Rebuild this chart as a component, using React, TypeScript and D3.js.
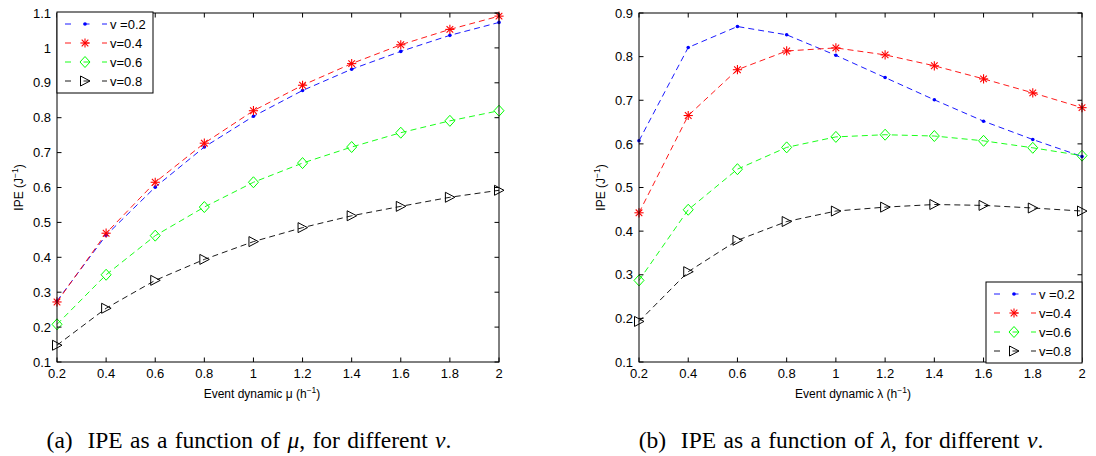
import * as d3 from 'd3';

// x positions shared by both panels
const xValues = [0.2, 0.4, 0.6, 0.8, 1.0, 1.2, 1.4, 1.6, 1.8, 2.0];
const xTickLabels = ['0.2', '0.4', '0.6', '0.8', '1', '1.2', '1.4', '1.6', '1.8', '2'];
const seriesNames = ['v =0.2', 'v=0.4', 'v=0.6', 'v=0.8'];

// panel (a): IPE vs mu
const muV02 = [0.275, 0.463, 0.601, 0.716, 0.804, 0.878, 0.939, 0.990, 1.036, 1.073];
const muV04 = [0.272, 0.469, 0.615, 0.727, 0.820, 0.893, 0.955, 1.009, 1.053, 1.091];
const muV06 = [0.208, 0.350, 0.462, 0.544, 0.615, 0.670, 0.716, 0.757, 0.791, 0.820];
const muV08 = [0.148, 0.254, 0.334, 0.394, 0.445, 0.485, 0.519, 0.546, 0.572, 0.592];
const muYTicks = [0.1, 0.2, 0.3, 0.4, 0.5, 0.6, 0.7, 0.8, 0.9, 1.0, 1.1];
const muYTickLabels = ['0.1', '0.2', '0.3', '0.4', '0.5', '0.6', '0.7', '0.8', '0.9', '1', '1.1'];

// panel (b): IPE vs lambda
const lamV02 = [0.607, 0.821, 0.869, 0.850, 0.803, 0.752, 0.701, 0.652, 0.610, 0.571];
const lamV04 = [0.442, 0.665, 0.770, 0.813, 0.820, 0.804, 0.779, 0.749, 0.717, 0.683];
const lamV06 = [0.287, 0.449, 0.542, 0.592, 0.616, 0.621, 0.618, 0.607, 0.591, 0.573];
const lamV08 = [0.193, 0.307, 0.379, 0.422, 0.446, 0.455, 0.461, 0.459, 0.453, 0.446];
const lamYTicks = [0.1, 0.2, 0.3, 0.4, 0.5, 0.6, 0.7, 0.8, 0.9];
const lamYTickLabels = ['0.1', '0.2', '0.3', '0.4', '0.5', '0.6', '0.7', '0.8', '0.9'];

const colors = ['#0000ff', '#ff0000', '#00ff00', '#000000'];
const markers = ['dot', 'star', 'diamond', 'triangle'];

const SANS = '"Liberation Sans", Arial, Helvetica, sans-serif';
const SERIF = '"Liberation Serif", "Times New Roman", serif';

function Marker({ kind, x, y, color }: { kind: string; x: number; y: number; color: string }) {
  if (kind === 'dot') return <circle cx={x} cy={y} r={1.8} fill={color} />;
  if (kind === 'star') {
    const r = 4.6, d = r * 0.72;
    return (
      <g stroke={color} strokeWidth={1.1}>
        <line x1={x - r} y1={y} x2={x + r} y2={y} />
        <line x1={x} y1={y - r} x2={x} y2={y + r} />
        <line x1={x - d} y1={y - d} x2={x + d} y2={y + d} />
        <line x1={x - d} y1={y + d} x2={x + d} y2={y - d} />
      </g>
    );
  }
  if (kind === 'diamond') {
    return <polygon points={`${x},${y - 5.5} ${x + 5},${y} ${x},${y + 5.5} ${x - 5},${y}`} fill="none" stroke={color} strokeWidth={1} />;
  }
  return <polygon points={`${x - 4.5},${y - 5} ${x + 5},${y} ${x - 4.5},${y + 5}`} fill="none" stroke={color} strokeWidth={1} />;
}

type PanelProps = {
  left: number; right: number; top: number; bottom: number;
  yDomain: [number, number]; yTicks: number[]; yTickLabels: string[];
  series: number[][]; symbol: string; xLabelX: number;
  legendX: number; legendY: number;
};

function Panel(p: PanelProps) {
  const x = d3.scaleLinear().domain([0.2, 2]).range([p.left, p.right]);
  const y = d3.scaleLinear().domain(p.yDomain).range([p.bottom, p.top]);
  const line = d3.line<number>().x((_, i) => x(xValues[i])).y(d => y(d));
  const tl = 4.5;
  const legW = 96, legH = 81, rowH = 19;
  return (
    <g fontFamily={SANS}>
      {p.series.map((s, k) => (
        <path key={'l' + k} d={line(s) || ''} fill="none" stroke={colors[k]} strokeWidth={0.9} strokeDasharray="6,4" />
      ))}
      {p.series.map((s, k) => s.map((v, i) => (
        <Marker key={`m${k}-${i}`} kind={markers[k]} x={x(xValues[i])} y={y(v)} color={colors[k]} />
      )))}
      <rect x={p.left} y={p.top} width={p.right - p.left} height={p.bottom - p.top} fill="none" stroke="#000" strokeWidth={1} />
      {xValues.map((t, i) => (
        <g key={'xt' + i}>
          <line x1={x(t)} x2={x(t)} y1={p.bottom} y2={p.bottom - tl} stroke="#000" />
          <line x1={x(t)} x2={x(t)} y1={p.top} y2={p.top + tl} stroke="#000" />
          <text x={x(t)} y={p.bottom + 16} fontSize={13} textAnchor="middle">{xTickLabels[i]}</text>
        </g>
      ))}
      {p.yTicks.map((t, i) => (
        <g key={'yt' + i}>
          <line x1={p.left} x2={p.left + tl} y1={y(t)} y2={y(t)} stroke="#000" />
          <line x1={p.right} x2={p.right - tl} y1={y(t)} y2={y(t)} stroke="#000" />
          <text x={p.left - 6} y={y(t)} dy="0.36em" fontSize={13} textAnchor="end">{p.yTickLabels[i]}</text>
        </g>
      ))}
      <text x={p.xLabelX} y={p.bottom + 36} fontSize={12} textAnchor="middle">
        Event dynamic {p.symbol} (h<tspan fontSize={8.5} dy={-5}>−1</tspan><tspan dy={5}>)</tspan>
      </text>
      <text transform={`translate(${p.left - 34},${(p.top + p.bottom) / 2}) rotate(-90)`} fontSize={12} textAnchor="middle">
        IPE (J<tspan fontSize={8.5} dy={-5}>−1</tspan><tspan dy={5}>)</tspan>
      </text>
      <g transform={`translate(${p.legendX},${p.legendY})`}>
        <rect x={0} y={0} width={legW} height={legH} fill="#fff" stroke="#000" strokeWidth={1} />
        {seriesNames.map((n, k) => {
          const ry = 12 + k * rowH;
          return (
            <g key={'lg' + k}>
              <line x1={8} x2={50} y1={ry} y2={ry} stroke={colors[k]} strokeWidth={0.9} strokeDasharray="6,12.5" />
              <Marker kind={markers[k]} x={28} y={ry} color={colors[k]} />
              <text x={53} y={ry} dy="0.36em" fontSize={13}>{n}</text>
            </g>
          );
        })}
      </g>
    </g>
  );
}

export default function App() {
  return (
    <svg width={1096} height={456} style={{ position: 'absolute', left: 0, top: 0, background: '#fff' }}>
      <rect width={1096} height={456} fill="#fff" />
      <Panel left={57} right={499} top={13} bottom={362} yDomain={[0.1, 1.1]} yTicks={muYTicks} yTickLabels={muYTickLabels}
        series={[muV02, muV04, muV06, muV08]} symbol="μ" xLabelX={262} legendX={57} legendY={12} />
      <Panel left={639} right={1082} top={13} bottom={362} yDomain={[0.1, 0.9]} yTicks={lamYTicks} yTickLabels={lamYTickLabels}
        series={[lamV02, lamV04, lamV06, lamV08]} symbol="λ" xLabelX={853} legendX={986} legendY={282} />
      <text x={249} y={448} fontFamily={SERIF} fontSize={23.5} textAnchor="middle" style={{ whiteSpace: 'pre' }} wordSpacing={1.5}>
        {'(a)  IPE as a function of '}<tspan fontStyle="italic">μ</tspan>{', for different '}<tspan fontStyle="italic">v</tspan>.
      </text>
      <text x={841} y={448} fontFamily={SERIF} fontSize={23.5} textAnchor="middle" style={{ whiteSpace: 'pre' }} wordSpacing={1.5}>
        {'(b)  IPE as a function of '}<tspan fontStyle="italic">λ</tspan>{', for different '}<tspan fontStyle="italic">v</tspan>.
      </text>
    </svg>
  );
}
